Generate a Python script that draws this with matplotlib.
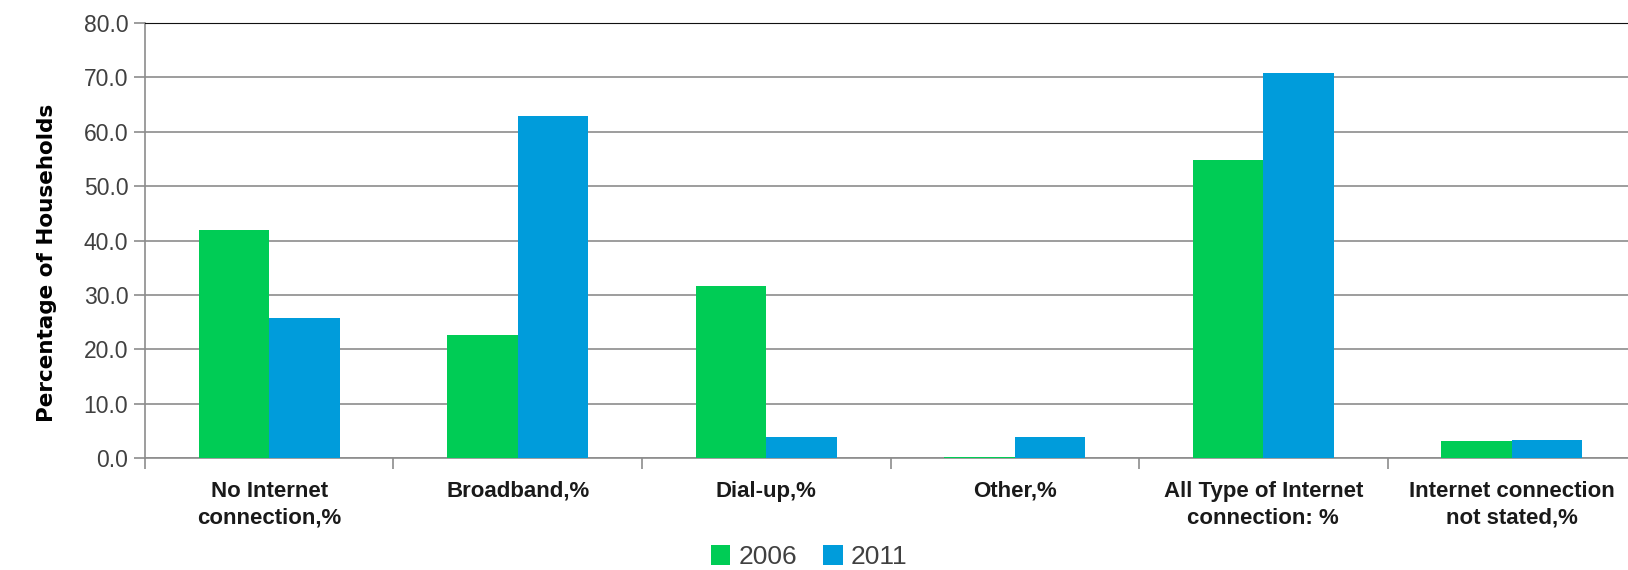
import numpy as np
import matplotlib.pyplot as plt
from matplotlib.ticker import FormatStrFormatter

categories = ["No Internet\nconnection,%", "Broadband,%", "Dial-up,%", "Other,%",
              "All Type of Internet\nconnection: %", "Internet connection\nnot stated,%"]
years = ["2006", "2011"]
v2006 = [41.9, 22.6, 31.7, 0.3, 54.8, 3.2]
v2011 = [25.7, 62.8, 3.9, 3.9, 70.8, 3.4]
colors = ["#00CC55", "#009CDB"]

plt.rcParams['font.family'] = ['Liberation Sans Narrow', 'Liberation Sans', 'DejaVu Sans']

fig = plt.figure(figsize=(16.28, 5.70), dpi=100)
ax = fig.add_axes([0.089, 0.196, 0.916, 0.764])

x = np.arange(len(categories))
w = 0.284
ax.bar(x - w / 2, v2006, w, color=colors[0], label=years[0], zorder=3)
ax.bar(x + w / 2, v2011, w, color=colors[1], label=years[1], zorder=3)

ax.set_xlim(-0.5, len(categories) - 0.5)
ax.set_ylim(0, 80)
ax.set_yticks(np.arange(0, 81, 10))
ax.yaxis.set_major_formatter(FormatStrFormatter('%.1f'))
ax.grid(axis='y', color='#8c8c8c', linewidth=1.2, zorder=0)

ax.set_xticks(x)
ax.set_xticklabels(categories, fontsize=16, fontweight='bold', color='#1a1a1a', linespacing=1.4)
ax.set_xticks(np.arange(-0.5, len(categories), 1), minor=True)
ax.tick_params(axis='x', which='major', length=0, pad=16)
ax.tick_params(axis='x', which='minor', length=8, color='#8c8c8c', width=1.2)
ax.tick_params(axis='y', length=8, color='#8c8c8c', width=1.2, labelsize=16.5, labelcolor='#404040', pad=4)

ax.spines['right'].set_visible(False)
ax.spines['top'].set_color('#111111')
ax.spines['left'].set_color('#8c8c8c')
ax.spines['bottom'].set_color('#8c8c8c')
for s in ['left', 'bottom']:
    ax.spines[s].set_linewidth(1.2)

ax.set_ylabel("Percentage of Households", fontsize=15.5, fontweight='bold',
              family=['DejaVu Sans'])
ax.yaxis.set_label_coords(-0.059, 0.448)

leg = fig.legend(loc='lower center', bbox_to_anchor=(0.497, -0.04), ncol=2, frameon=False,
                 fontsize=19, handlelength=0.75, handleheight=0.75, handletextpad=0.3,
                 columnspacing=1.0)
for t in leg.get_texts():
    t.set_color('#404040')

fig.savefig("out.png", dpi=100)
